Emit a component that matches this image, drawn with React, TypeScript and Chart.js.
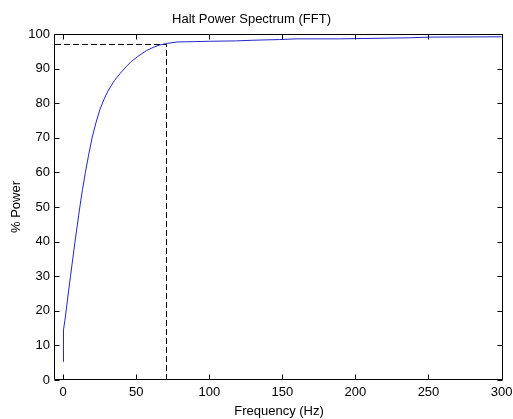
import React, { useEffect, useRef } from "react";
import { Chart, registerables } from "chart.js";

Chart.register(...registerables);

// Cumulative % power vs frequency
const freqHz = [0, 0.2, 1.2, 2.0, 5.0, 8.1, 11.4, 13.2, 15.2, 17.4, 19.8, 22.2, 25, 27.8, 30.6, 35, 39, 43, 46.5, 51, 57, 62, 66, 70.7, 78, 90, 100, 118, 130, 148, 160, 189, 206, 237, 251, 275, 300];
const powerPct = [5.3, 14.5, 17.3, 20, 30, 40, 50, 55, 60, 65, 70, 74, 78, 81, 83.5, 86.5, 88.6, 90.5, 92, 93.5, 95.2, 96.2, 96.8, 97.25, 97.7, 97.8, 97.9, 98.0, 98.2, 98.4, 98.6, 98.6, 98.7, 98.9, 99.1, 99.15, 99.2];

// Cut-off marker (dashed guide lines)
const cutoffHz = 70.7;
const cutoffPct = 96.97;

const xMin = -5.6;
const xMax = 301;
const xTicks = [0, 50, 100, 150, 200, 250, 300];
const yTicks = [0, 10, 20, 30, 40, 50, 60, 70, 80, 90, 100];

const FONT = "'Liberation Sans', Arial, Helvetica, sans-serif";

const boxPlugin = {
  id: "matlabBox",
  afterDraw(chart: any) {
    const { ctx, chartArea } = chart;
    const xs = chart.scales.x;
    const ys = chart.scales.y;
    const L = Math.round(chartArea.left) - 0.5;
    const R = Math.round(chartArea.right) - 0.5;
    const T = Math.round(chartArea.top) + 0.5;
    const B = Math.round(chartArea.bottom) - 0.5;
    const tl = 5;
    ctx.save();
    ctx.strokeStyle = "#000";
    ctx.lineWidth = 1;
    ctx.setLineDash([]);
    ctx.beginPath();
    ctx.rect(L, T, R - L, B - T);
    for (const v of xTicks) {
      const px = Math.round(xs.getPixelForValue(v)) + 0.5;
      ctx.moveTo(px, B);
      ctx.lineTo(px, B - tl);
      ctx.moveTo(px, T);
      ctx.lineTo(px, T + tl);
    }
    for (const v of yTicks) {
      const py = Math.round(ys.getPixelForValue(v)) + 0.5;
      ctx.moveTo(L, py);
      ctx.lineTo(L + tl, py);
      ctx.moveTo(R, py);
      ctx.lineTo(R - tl, py);
    }
    ctx.stroke();
    ctx.restore();
  },
};

export default function App() {
  const ref = useRef<HTMLCanvasElement | null>(null);

  useEffect(() => {
    if (!ref.current) return;
    const chart = new Chart(ref.current, {
      type: "line",
      data: {
        datasets: [
          {
            label: "% Power",
            data: freqHz.map((f, i) => ({ x: f, y: powerPct[i] })),
            borderColor: "#2424c8",
            borderWidth: 1,
            pointRadius: 0,
            tension: 0,
            fill: false,
          },
          {
            label: "cutoff",
            data: [
              { x: xMin, y: cutoffPct },
              { x: cutoffHz, y: cutoffPct },
              { x: cutoffHz, y: 0 },
            ],
            borderColor: "#000",
            borderWidth: 1,
            borderDash: [6, 3],
            pointRadius: 0,
            tension: 0,
            fill: false,
          },
        ],
      },
      options: {
        responsive: false,
        animation: false,
        devicePixelRatio: 1,
        layout: { padding: { top: 0, left: 0, right: 10, bottom: 0 } },
        plugins: {
          legend: { display: false },
          tooltip: { enabled: false },
          title: {
            display: true,
            text: "Halt Power Spectrum (FFT)",
            color: "#000",
            font: { family: FONT, size: 13, weight: "normal" },
            padding: { top: 11.7, bottom: 6.7 },
          },
        },
        scales: {
          x: {
            type: "linear",
            min: xMin,
            max: xMax,
            grid: { display: false, drawTicks: false },
            border: { display: false },
            ticks: {
              color: "#000",
              font: { family: FONT, size: 13 },
              padding: 5,
              maxRotation: 0,
              autoSkip: false,
            },
            afterBuildTicks: (s: any) => {
              s.ticks = xTicks.map((v) => ({ value: v }));
            },
            afterFit: (s: any) => {
              s.height = 39;
              s.paddingLeft = 0;
              s.paddingRight = 0;
            },
            title: {
              display: true,
              text: "Frequency (Hz)",
              color: "#000",
              font: { family: FONT, size: 13 },
              padding: { top: 0, bottom: 0 },
            },
          },
          y: {
            type: "linear",
            min: 0,
            max: 100,
            grid: { display: false, drawTicks: false },
            border: { display: false },
            ticks: {
              color: "#000",
              font: { family: FONT, size: 13 },
              padding: 5,
              autoSkip: false,
            },
            afterBuildTicks: (s: any) => {
              s.ticks = yTicks.map((v) => ({ value: v }));
            },
            afterFit: (s: any) => {
              s.width = 55;
              s.paddingTop = 0;
              s.paddingBottom = 0;
            },
            title: {
              display: true,
              text: "% Power",
              color: "#000",
              font: { family: FONT, size: 13 },
              padding: { top: 8.2, bottom: 0 },
            },
          },
        },
      },
      plugins: [boxPlugin],
    });
    return () => chart.destroy();
  }, []);

  return (
    <div
      style={{
        position: "absolute",
        left: 0,
        top: 0,
        width: 513,
        height: 419,
        background: "#fff",
      }}
    >
      <canvas ref={ref} width={513} height={419} style={{ display: "block" }} />
    </div>
  );
}
